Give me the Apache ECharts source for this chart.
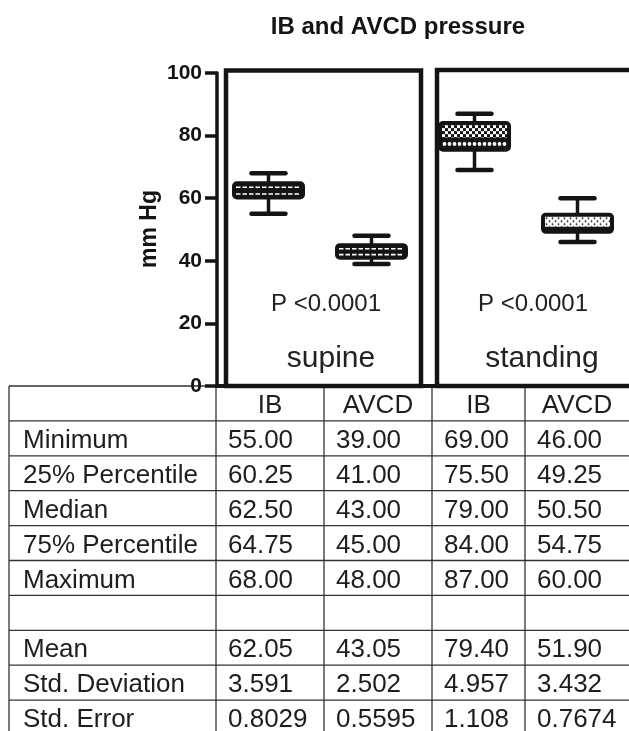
<!DOCTYPE html>
<html><head><meta charset="utf-8">
<script src="https://cdn.jsdelivr.net/npm/echarts@6/dist/echarts.min.js"></script>
<style>html,body{margin:0;padding:0;background:#fff}#c{width:629px;height:731px}</style>
</head><body><div id="c"></div>
<script>
// ---------------- data ----------------
const chartTitle = 'IB and AVCD pressure';
const yAxisName = 'mm Hg';
const groups = ['supine', 'standing'];
const pLabels = ['P <0.0001', 'P <0.0001'];
const columns = ['IB', 'AVCD', 'IB', 'AVCD'];
const categories = ['supine IB', 'supine AVCD', 'standing IB', 'standing AVCD'];
const minimum = [55.00, 39.00, 69.00, 46.00];
const q1 = [60.25, 41.00, 75.50, 49.25];
const median = [62.50, 43.00, 79.00, 50.50];
const q3 = [64.75, 45.00, 84.00, 54.75];
const maximum = [68.00, 48.00, 87.00, 60.00];
const mean = [62.05, 43.05, 79.40, 51.90];
const stdDev = [3.591, 2.502, 4.957, 3.432];
const stdErr = [0.8029, 0.5595, 1.108, 0.7674];
const yTicks = [0, 20, 40, 60, 80, 100];
const rowLabels = ['Minimum', '25% Percentile', 'Median', '75% Percentile', 'Maximum', '', 'Mean', 'Std. Deviation', 'Std. Error'];

// ---------------- styles ----------------
const ink = '#141414';
const FONT = '"Liberation Sans", Arial, Helvetica, sans-serif';
const halfStyles = [ // [upper half, lower half]
  ['dash', 'dash'], ['dash', 'dash'], ['checker', 'circle'], ['dots', 'dots']
];

function makeTile(kind) {
  const c = document.createElement('canvas');
  const g = c.getContext('2d');
  if (kind === 'checker') {
    c.width = 6; c.height = 6;
    g.fillStyle = '#fff'; g.fillRect(0, 0, 6, 6);
    g.fillStyle = ink; g.fillRect(0, 0, 3, 3); g.fillRect(3, 3, 3, 3);
  } else if (kind === 'circle') {
    c.width = 5; c.height = 6;
    g.fillStyle = ink; g.fillRect(0, 0, 5, 6);
    g.fillStyle = '#fff'; g.beginPath(); g.ellipse(2.5, 3, 1.9, 2.0, 0, 0, Math.PI * 2); g.fill();
  } else {
    c.width = 6; c.height = 6;
    g.fillStyle = '#fff'; g.fillRect(0, 0, 6, 6);
    g.fillStyle = ink;
    g.beginPath(); g.arc(1.5, 1.5, 0.9, 0, Math.PI * 2); g.fill();
    g.beginPath(); g.arc(4.5, 4.5, 0.9, 0, Math.PI * 2); g.fill();
  }
  return c;
}
const tiles = { checker: makeTile('checker'), circle: makeTile('circle'), dots: makeTile('dots') };

const boxData = categories.map((c, i) => [i, minimum[i], q1[i], median[i], q3[i], maximum[i]]);

function renderBox(params, api) {
  const i = api.value(0);
  const x = api.coord([i, 0])[0];
  const band = api.size([1, 0])[0];
  const yMin = api.coord([i, api.value(1)])[1];
  const yQ1 = api.coord([i, api.value(2)])[1];
  const yMed = api.coord([i, api.value(3)])[1];
  const yQ3 = api.coord([i, api.value(4)])[1];
  const yMax = api.coord([i, api.value(5)])[1];
  const bw = band * 0.67, L = x - bw / 2, R = x + bw / 2, cap = band * 0.165;
  const ch = [];
  ch.push({ type: 'line', shape: { x1: x, y1: yQ3, x2: x, y2: yMax }, style: { stroke: ink, lineWidth: 3.5 } });
  ch.push({ type: 'line', shape: { x1: x, y1: yQ1, x2: x, y2: yMin }, style: { stroke: ink, lineWidth: 3.5 } });
  ch.push({ type: 'line', shape: { x1: x - cap, y1: yMax, x2: x + cap, y2: yMax }, style: { stroke: ink, lineWidth: 4.5, lineCap: 'round' } });
  ch.push({ type: 'line', shape: { x1: x - cap, y1: yMin, x2: x + cap, y2: yMin }, style: { stroke: ink, lineWidth: 4.5, lineCap: 'round' } });
  ch.push({ type: 'rect', shape: { x: L, y: yQ3, width: bw, height: yQ1 - yQ3, r: 3 }, style: { fill: ink, stroke: ink, lineWidth: 4 } });
  const halves = [[yQ3 + 2, yMed - 1.2, halfStyles[i][0]], [yMed + 2.2, yQ1 - 2, halfStyles[i][1]]];
  halves.forEach(([t, b, kind]) => {
    if (b - t < 1.5) return;
    if (kind === 'dash') {
      const cy = (t + b) / 2;
      ch.push({ type: 'line', shape: { x1: L + 2, y1: cy, x2: R - 2, y2: cy }, style: { stroke: '#fff', lineWidth: 1.6, lineDash: [4.5, 2] } });
    } else {
      ch.push({ type: 'rect', x: L + 2, y: t, shape: { x: 0, y: 0, width: bw - 4, height: b - t }, style: { fill: { image: tiles[kind], repeat: 'repeat' } } });
    }
  });
  return { type: 'group', children: ch };
}

// ---------------- graphics (panels, labels, table) ----------------
const graphics = [];
graphics.push({ type: 'text', x: 398, y: 27, style: { text: chartTitle, font: 'bold 24px ' + FONT, fill: ink, align: 'center', verticalAlign: 'middle' } });
graphics.push({ type: 'text', x: 150, y: 229, rotation: Math.PI / 2, style: { text: yAxisName, font: 'bold 23px ' + FONT, fill: ink, align: 'center', verticalAlign: 'middle' } });
const panels = [{ x: 226, y: 70.5, w: 195 }, { x: 437, y: 70, w: 205 }];
const pX = [326, 533], gX = [331, 542];
groups.forEach((g, k) => {
  const p = panels[k];
  graphics.push({ type: 'rect', shape: { x: p.x, y: p.y, width: p.w, height: 386 - p.y }, style: { fill: 'none', stroke: ink, lineWidth: 4.5 } });
  graphics.push({ type: 'text', x: pX[k], y: 304, style: { text: pLabels[k], font: '24px ' + FONT, fill: '#222', align: 'center', verticalAlign: 'middle' } });
  graphics.push({ type: 'text', x: gX[k], y: 359, style: { text: g, font: '30px ' + FONT, fill: '#222', align: 'center', verticalAlign: 'middle' } });
});

// table
const tTop = 386, rowH = 34.9, tLeft = 9;
const colX = [216, 324, 432, 525, 629];
const tColor = '#333', tText = '#1e1e1e';
const fmt2 = v => v.toFixed(2), fmt4 = v => v.toPrecision(4);
const rowValues = [minimum.map(fmt2), q1.map(fmt2), median.map(fmt2), q3.map(fmt2), maximum.map(fmt2), null, mean.map(fmt2), stdDev.map(fmt4), stdErr.map(fmt4)];
graphics.push({ type: 'line', shape: { x1: tLeft, y1: tTop, x2: colX[0], y2: tTop }, style: { stroke: tColor, lineWidth: 1.3 } });
for (let k = 1; k <= rowLabels.length; k++) {
  const y = tTop + k * rowH;
  graphics.push({ type: 'line', shape: { x1: tLeft, y1: y, x2: 629, y2: y }, style: { stroke: tColor, lineWidth: 1.3 } });
}
[tLeft].concat(colX.slice(0, 4)).forEach(x => {
  graphics.push({ type: 'line', shape: { x1: x, y1: tTop, x2: x, y2: 731 }, style: { stroke: tColor, lineWidth: 1.3 } });
});
columns.forEach((c, j) => {
  graphics.push({ type: 'text', x: (colX[j] + colX[j + 1]) / 2, y: tTop + rowH / 2 + 2.5, style: { text: c, font: '26px ' + FONT, fill: tText, align: 'center', verticalAlign: 'middle' } });
});
rowLabels.forEach((lab, r) => {
  const cy = tTop + (r + 1.5) * rowH + 2.5;
  if (lab) graphics.push({ type: 'text', x: 23, y: cy, style: { text: lab, font: '26px ' + FONT, fill: tText, align: 'left', verticalAlign: 'middle' } });
  const vals = rowValues[r];
  if (vals) vals.forEach((v, j) => {
    graphics.push({ type: 'text', x: colX[j] + 12, y: cy, style: { text: v, font: '26px ' + FONT, fill: tText, align: 'left', verticalAlign: 'middle' } });
  });
});

// ---------------- chart ----------------
const chart = echarts.init(document.getElementById('c'), null, { renderer: 'canvas' });
chart.setOption({
  animation: false,
  backgroundColor: '#fff',
  grid: { left: 217, top: 73, width: 419, height: 313 },
  xAxis: {
    type: 'category', data: categories,
    axisLine: { lineStyle: { color: ink, width: 4 } },
    axisTick: { alignWithLabel: true, length: 8, lineStyle: { color: ink, width: 3 } },
    axisLabel: { show: false }, splitLine: { show: false }
  },
  yAxis: {
    type: 'value', min: yTicks[0], max: yTicks[yTicks.length - 1], interval: yTicks[1] - yTicks[0],
    axisLine: { show: true, lineStyle: { color: ink, width: 3.5 } },
    axisTick: { show: true, length: 12, lineStyle: { color: ink, width: 3.5 } },
    axisLabel: { fontSize: 21, fontWeight: 'bold', fontFamily: FONT, color: ink, margin: 15 },
    splitLine: { show: false }
  },
  graphic: graphics,
  series: [{
    type: 'custom', data: boxData, clip: false,
    encode: { x: 0, y: [1, 2, 3, 4, 5] },
    renderItem: renderBox, z: 3
  }]
});
</script></body></html>
